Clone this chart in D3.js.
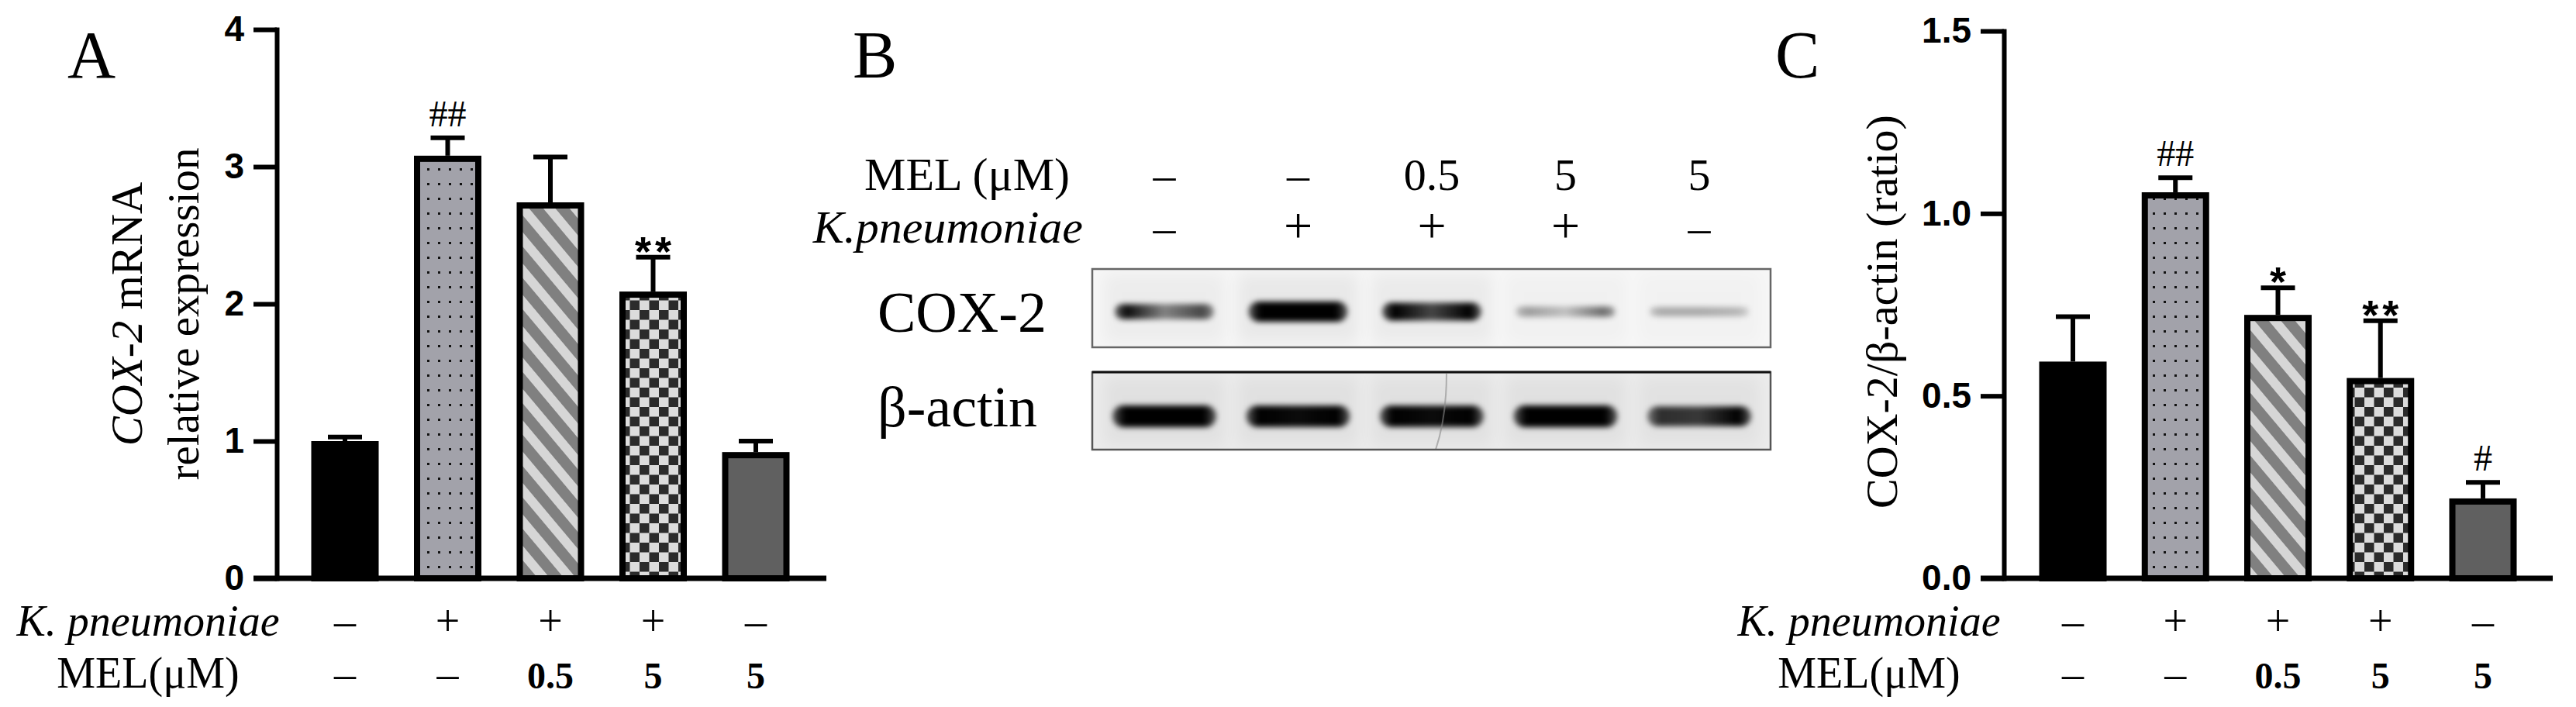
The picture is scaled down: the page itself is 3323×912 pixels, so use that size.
<!DOCTYPE html>
<html><head><meta charset="utf-8">
<script src="https://cdn.jsdelivr.net/npm/d3@7"></script>
<style>html,body{margin:0;padding:0;background:#fff;} svg{display:block;}</style>
</head><body>
<svg id="fig" width="3323" height="912"></svg>
<script>
// ---------------- data ----------------
const groups = ["Control", "K. pneumoniae", "K. pneumoniae + MEL 0.5", "K. pneumoniae + MEL 5", "MEL 5"];
const kpRow = ["–", "+", "+", "+", "–"];
const melRow = ["–", "–", "0.5", "5", "5"];
// Panel A: COX-2 mRNA relative expression
const mrnaMean = [1.00, 3.08, 2.74, 2.09, 0.92];
const mrnaErr  = [0.03, 0.13, 0.33, 0.25, 0.08];
const mrnaSig  = ["", "##", "", "**", ""];
const mrnaTicks = [0, 1, 2, 3, 4];
// Panel C: COX-2/β-actin ratio
const ratioMean = [0.594, 1.058, 0.722, 0.549, 0.219];
const ratioErr  = [0.123, 0.040, 0.074, 0.157, 0.044];
const ratioSig  = ["", "##", "*", "**", "#"];
const ratioTicks = [0, 0.5, 1.0, 1.5];
// Panel B: western blot lanes
const blotMel = ["–", "–", "0.5", "5", "5"];
const blotKp  = ["–", "+", "+", "+", "–"];
// band density (left, middle, right part of each band)
const cox2Band  = [[0.95, 0.45, 0.7], [1, 1, 1], [1, 0.7, 1], [0.35, 0.2, 0.55], [0.3, 0.3, 0.25]];
const actinBand = [[1, 1, 1], [1, 0.95, 1], [1, 0.95, 1], [1, 1, 1], [0.8, 0.75, 1]];

// ---------------- drawing ----------------
const serif = "'Liberation Serif','Times New Roman',serif";
const sans = "'Liberation Sans',Arial,sans-serif";
const svg = d3.select("#fig");
svg.append("rect").attr("width", 3323).attr("height", 912).attr("fill", "#fff");
const defs = svg.append("defs");

// patterns
const pDots = defs.append("pattern").attr("id", "dots").attr("patternUnits", "userSpaceOnUse")
  .attr("width", 14).attr("height", 19);
pDots.append("rect").attr("width", 14).attr("height", 19).attr("fill", "#a2a2aa");
pDots.append("rect").attr("x", 5).attr("y", 8).attr("width", 3).attr("height", 3).attr("fill", "#111");

const pStr = defs.append("pattern").attr("id", "stripes").attr("patternUnits", "userSpaceOnUse")
  .attr("width", 100).attr("height", 26).attr("patternTransform", "rotate(50)");
pStr.append("rect").attr("width", 100).attr("height", 26).attr("fill", "#d6d6d6");
pStr.append("rect").attr("width", 100).attr("height", 14).attr("fill", "#808080");

const pChk = defs.append("pattern").attr("id", "checker").attr("patternUnits", "userSpaceOnUse")
  .attr("width", 25).attr("height", 25);
pChk.append("rect").attr("width", 25).attr("height", 25).attr("fill", "#dcdcdc");
pChk.append("rect").attr("width", 12.5).attr("height", 12.5).attr("fill", "#2b2b2b");
pChk.append("rect").attr("x", 12.5).attr("y", 12.5).attr("width", 12.5).attr("height", 12.5).attr("fill", "#2b2b2b");

const fills = ["#000", "url(#dots)", "url(#stripes)", "url(#checker)", "#606060"];

function barPanel(cfg) {
  const BW = 87, SW = 8;
  const x = d3.scalePoint().domain(d3.range(groups.length)).range(cfg.xr);
  const y = d3.scaleLinear().domain([0, cfg.max]).range(cfg.yr);
  const g = svg.append("g");

  // error bars
  const eg = g.append("g").attr("stroke", "#000").attr("stroke-width", 6);
  cfg.mean.forEach((m, i) => {
    eg.append("line").attr("x1", x(i)).attr("x2", x(i)).attr("y1", y(m)).attr("y2", y(m + cfg.err[i]));
    eg.append("line").attr("x1", x(i) - 22).attr("x2", x(i) + 22).attr("y1", y(m + cfg.err[i])).attr("y2", y(m + cfg.err[i]));
  });
  // bars
  g.selectAll("rect.bar").data(cfg.mean).join("rect").attr("class", "bar")
    .attr("x", (d, i) => x(i) - BW / 2 + SW / 2)
    .attr("y", d => y(d) + SW / 2)
    .attr("width", BW - SW)
    .attr("height", d => y(0) - y(d) - SW / 2)
    .attr("fill", (d, i) => fills[i])
    .attr("stroke", "#000").attr("stroke-width", SW);

  // significance marks
  cfg.sig.forEach((s, i) => {
    if (!s) return;
    const top = y(cfg.mean[i] + cfg.err[i]);
    const star = s.indexOf("*") >= 0;
    const t = g.append("text").attr("x", x(i)).attr("text-anchor", "middle").text(s);
    if (star) {
      t.attr("y", top + 11).attr("font-family", sans).attr("font-weight", "bold")
        .attr("font-size", 54).attr("letter-spacing", 5).attr("dx", 2.5);
    } else {
      t.attr("y", top - 15).attr("font-family", serif).attr("font-size", 48);
    }
  });

  // y axis
  const ya = d3.axisLeft(y).tickValues(cfg.ticks).tickFormat(cfg.fmt)
    .tickSize(30).tickSizeOuter(0).tickPadding(12);
  const ag = g.append("g").attr("transform", `translate(${cfg.axisX},0)`).call(ya);
  ag.select(".domain").attr("stroke", "#000").attr("stroke-width", 6).attr("stroke-linecap", "square");
  ag.selectAll(".tick line").attr("stroke", "#000").attr("stroke-width", 6);
  ag.selectAll(".tick text").attr("font-family", sans).attr("font-weight", "bold")
    .attr("font-size", 46).attr("fill", "#000");
  // x axis baseline
  g.append("line").attr("x1", cfg.axisX - 30).attr("x2", cfg.axisEnd)
    .attr("y1", y(0)).attr("y2", y(0)).attr("stroke", "#000").attr("stroke-width", 7);

  // condition rows
  g.append("text").attr("x", cfg.rowLabelX).attr("y", 820).attr("text-anchor", "middle")
    .attr("font-family", serif).attr("font-style", "italic").attr("font-size", 56).text("K. pneumoniae");
  g.append("text").attr("x", cfg.rowLabelX).attr("y", 887).attr("text-anchor", "middle")
    .attr("font-family", serif).attr("font-size", 56).text("MEL(μM)");
  kpRow.forEach((s, i) => {
    g.append("text").attr("x", x(i)).attr("y", 820).attr("text-anchor", "middle")
      .attr("font-family", serif).attr("font-size", 56).text(s);
  });
  melRow.forEach((s, i) => {
    const num = s !== "–";
    g.append("text").attr("x", x(i)).attr("y", 888).attr("text-anchor", "middle")
      .attr("font-family", serif).attr("font-weight", num ? "bold" : "normal")
      .attr("font-size", num ? 48 : 56).text(s);
  });
  return g;
}

// Panel A
const gA = barPanel({
  xr: [445, 975], yr: [746, 38], max: 4, axisX: 357, axisEnd: 1066,
  mean: mrnaMean, err: mrnaErr, sig: mrnaSig, ticks: mrnaTicks, fmt: d3.format("d"), rowLabelX: 191
});
const tA = svg.append("g").attr("font-family", serif).attr("font-size", 57).attr("text-anchor", "middle");
const tA1 = tA.append("text").attr("transform", "translate(183,405) rotate(-90)");
tA1.append("tspan").attr("font-style", "italic").text("COX-2");
tA1.append("tspan").text(" mRNA");
tA.append("text").attr("transform", "translate(256,405) rotate(-90)").text("relative expression");

// Panel C
const gC = barPanel({
  xr: [2674, 3203], yr: [746, 40], max: 1.5, axisX: 2585, axisEnd: 3293,
  mean: ratioMean, err: ratioErr, sig: ratioSig, ticks: ratioTicks, fmt: d3.format(".1f"), rowLabelX: 2411
});
svg.append("text").attr("transform", "translate(2447,402) rotate(-90)").attr("text-anchor", "middle")
  .attr("font-family", serif).attr("font-size", 58).text("COX-2/β-actin (ratio)");

// panel letters
[["A", 87], ["B", 1100], ["C", 2290]].forEach(([t, x]) => {
  svg.append("text").attr("x", x).attr("y", 100).attr("font-family", serif).attr("font-size", 86).text(t);
});

// ---------------- Panel B: blot ----------------
const lane = d3.scalePoint().domain(d3.range(blotMel.length)).range([1502, 2192]);
const gB = svg.append("g");
gB.append("text").attr("x", 1380).attr("y", 245).attr("text-anchor", "end")
  .attr("font-family", serif).attr("font-size", 60).text("MEL (μM)");
gB.append("text").attr("x", 1397).attr("y", 313).attr("text-anchor", "end")
  .attr("font-family", serif).attr("font-style", "italic").attr("font-size", 60).text("K.pneumoniae");
blotMel.forEach((s, i) => gB.append("text").attr("x", lane(i)).attr("y", 245).attr("text-anchor", "middle")
  .attr("font-family", serif).attr("font-size", 58).text(s));
blotKp.forEach((s, i) => gB.append("text").attr("x", lane(i)).attr("y", 313).attr("text-anchor", "middle")
  .attr("font-family", serif).attr("font-size", s === "+" ? 66 : 58).text(s));
gB.append("text").attr("x", 1132).attr("y", 428).attr("font-family", serif).attr("font-size", 74).text("COX-2");
gB.append("text").attr("x", 1132).attr("y", 550).attr("font-family", serif).attr("font-size", 74).text("β-actin");

defs.append("filter").attr("id", "blurBand").attr("x", "-20%").attr("y", "-100%").attr("width", "140%").attr("height", "300%")
  .append("feGaussianBlur").attr("stdDeviation", 3.5);
defs.append("filter").attr("id", "blurSmear").attr("x", "-30%").attr("y", "-30%").attr("width", "160%").attr("height", "160%")
  .append("feGaussianBlur").attr("stdDeviation", 10);

function blot(id, y0, y1, base, bands, bandY, bandW, thick, smear) {
  const cp = defs.append("clipPath").attr("id", "clip" + id);
  cp.append("rect").attr("x", 1409).attr("y", y0).attr("width", 2284 - 1409).attr("height", y1 - y0);
  const bg = gB.append("g").attr("clip-path", `url(#clip${id})`);
  bg.append("rect").attr("x", 1409).attr("y", y0).attr("width", 2284 - 1409).attr("height", y1 - y0).attr("fill", base);
  bands.forEach((b, i) => {
    const m = d3.mean(b);
    bg.append("rect").attr("x", lane(i) - 78).attr("y", y0 + 6).attr("width", 156).attr("height", y1 - y0 - 12)
      .attr("fill", "#000").attr("opacity", smear * m).attr("filter", "url(#blurSmear)");
  });
  bands.forEach((b, i) => {
    const gid = `grad${id}${i}`;
    const gr = defs.append("linearGradient").attr("id", gid).attr("x1", 0).attr("x2", 1).attr("y1", 0).attr("y2", 0);
    [[0, b[0] * 0.6], [0.12, b[0]], [0.5, b[1]], [0.88, b[2]], [1, b[2] * 0.6]].forEach(([o, a]) => {
      gr.append("stop").attr("offset", o).attr("stop-color", "#000").attr("stop-opacity", Math.min(1, a));
    });
    const t = thick(b);
    bg.append("rect").attr("x", lane(i) - bandW / 2).attr("y", bandY - t / 2)
      .attr("width", bandW).attr("height", t).attr("rx", t / 2)
      .attr("fill", `url(#${gid})`).attr("filter", "url(#blurBand)");
  });
  return bg;
}
blot("cox", 347, 448, "#f6f6f6", cox2Band, 402, 128,
  b => 8 + 18 * Math.pow(d3.max(b) * 0.5 + b[1] * 0.5, 1.2), 0.05);
const actG = blot("act", 480, 580, "#ebebeb", actinBand, 537, 134,
  b => 12 + 16 * d3.mean(b), 0.04);
actG.append("path").attr("d", "M1866,482 C1866,520 1862,550 1852,580")
  .attr("fill", "none").attr("stroke", "#888").attr("stroke-width", 2).attr("opacity", 0.6);
gB.append("rect").attr("x", 1409).attr("y", 347).attr("width", 2284 - 1409).attr("height", 448 - 347)
  .attr("fill", "none").attr("stroke", "#666").attr("stroke-width", 2.5);
gB.append("rect").attr("x", 1409).attr("y", 480).attr("width", 2284 - 1409).attr("height", 580 - 480)
  .attr("fill", "none").attr("stroke", "#555").attr("stroke-width", 2.5);
gB.append("line").attr("x1", 1409).attr("x2", 2284).attr("y1", 480).attr("y2", 480)
  .attr("stroke", "#111").attr("stroke-width", 3);
</script>
</body></html>
